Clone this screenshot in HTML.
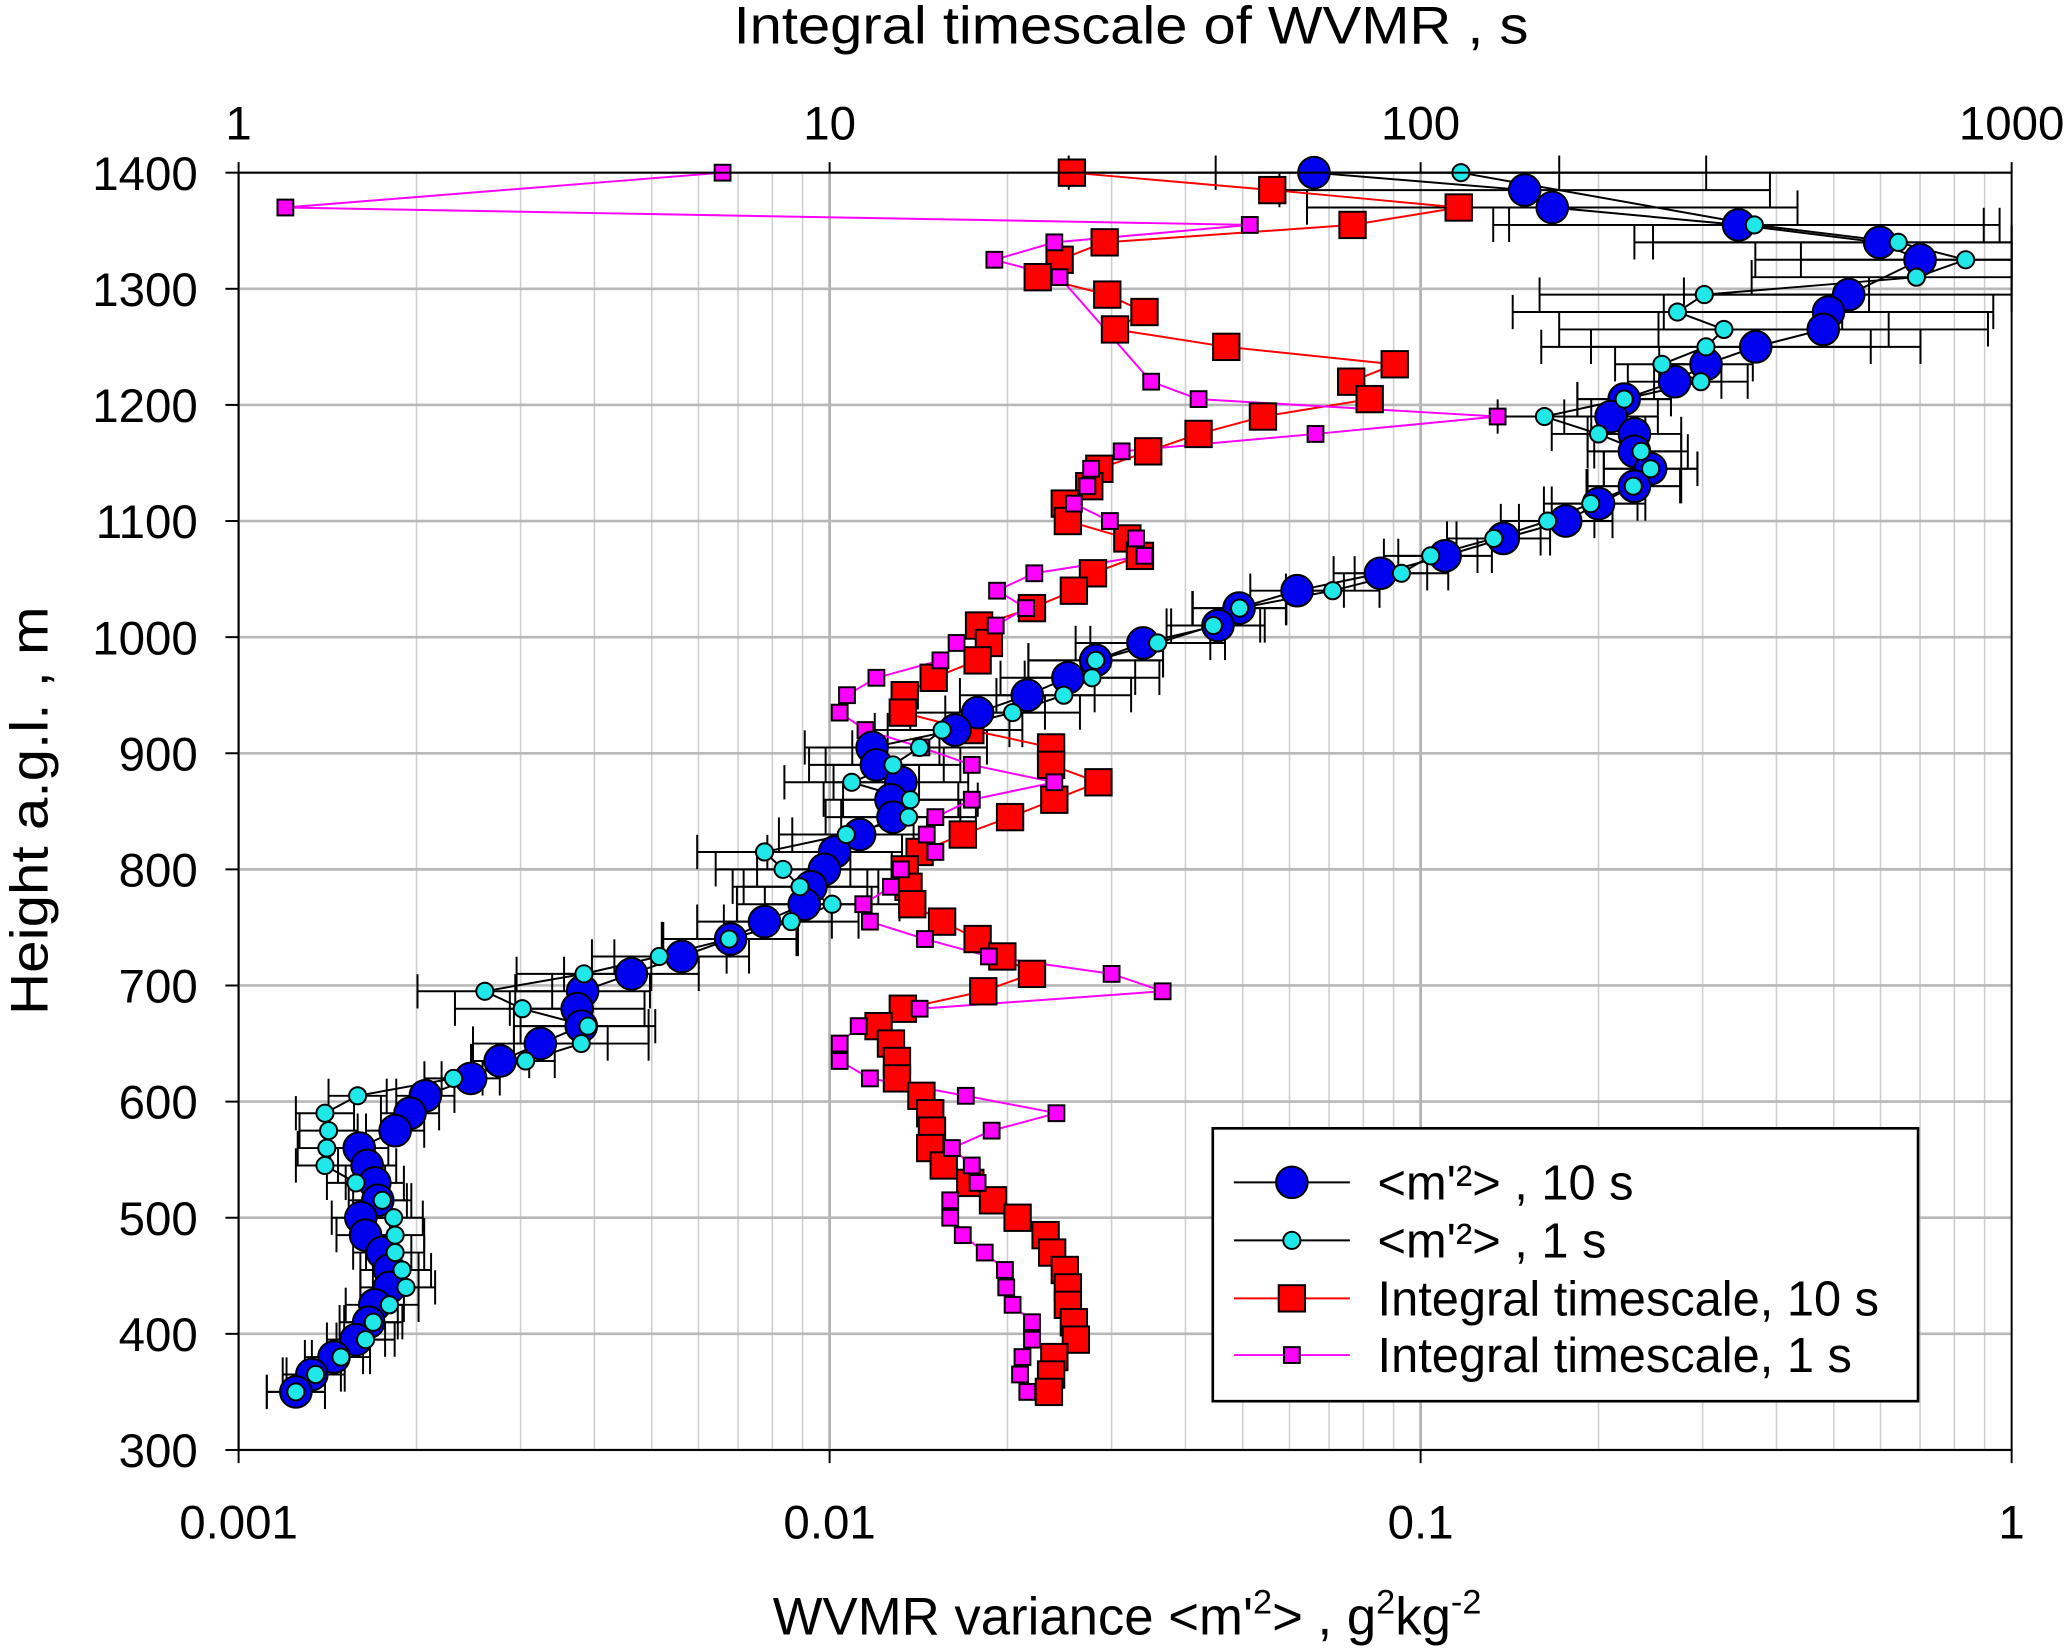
<!DOCTYPE html>
<html><head><meta charset="utf-8">
<style>
html,body{margin:0;padding:0;background:#fff;}
svg{display:block;font-family:"Liberation Sans",Arial,sans-serif;}
</style></head>
<body>
<svg id="chart" width="2067" height="1649" viewBox="0 0 1568 1251" preserveAspectRatio="none" xmlns="http://www.w3.org/2000/svg">
<g id="grid"></g>
<g id="errs"></g>
<g id="series"></g>
<g id="axes"></g>
<text x="858" y="33" font-size="40" text-anchor="middle" textLength="603" lengthAdjust="spacingAndGlyphs">Integral timescale of WVMR , s</text>
<text x="855" y="1240" font-size="40" text-anchor="middle">WVMR variance &lt;m'<tspan font-size="26" dy="-16">2</tspan><tspan dy="16">&gt; , g</tspan><tspan font-size="26" dy="-16">2</tspan><tspan dy="16">kg</tspan><tspan font-size="26" dy="-16">-2</tspan></text>
<text transform="translate(36,615) rotate(-90)" font-size="40" text-anchor="middle" textLength="310" lengthAdjust="spacingAndGlyphs">Height a.g.l. , m</text>
<g id="legend">
<rect x="920" y="856" width="535" height="207" fill="#fff" stroke="#000" stroke-width="2"/>
</g>
</svg>
<script>
// ---- data ----
const b10H = [1400,1385,1370,1355,1340,1325,1295,1280,1265,1250,1235,1220,1205,1190,1175,1160,1145,1130,1115,1100,1085,1070,1055,1040,1025,1010,995,980,965,950,935,920,905,890,875,860,845,830,815,800,785,770,755,740,725,710,695,680,665,650,635,620,605,590,575,560,545,530,515,500,485,470,455,440,425,410,395,380,365,350];
const b10V = [0.066,0.150,0.167,0.345,0.598,0.70,0.53,0.49,0.48,0.369,0.304,0.269,0.221,0.210,0.230,0.230,0.245,0.230,0.200,0.176,0.138,0.110,0.0855,0.0618,0.0493,0.0454,0.0339,0.0282,0.0253,0.0216,0.0178,0.0163,0.0118,0.0120,0.0132,0.0127,0.0128,0.01124,0.0102,0.0098,0.0093,0.00906,0.00776,0.0068,0.00562,0.00462,0.00382,0.00374,0.0038,0.00324,0.00277,0.00247,0.00207,0.00195,0.00184,0.0016,0.00165,0.0017,0.00172,0.00161,0.00164,0.00175,0.0018,0.0018,0.0017,0.00166,0.00158,0.00145,0.00133,0.00125];
const c1H = [1400,1355,1340,1325,1310,1295,1280,1265,1250,1235,1220,1205,1190,1175,1160,1145,1130,1115,1100,1085,1070,1055,1040,1025,1010,995,980,965,950,935,920,905,890,875,860,845,830,815,800,785,770,755,740,725,710,695,680,665,650,635,620,605,590,575,560,545,530,515,500,485,470,455,440,425,410,395,380,365,350];
const c1V = [0.117,0.367,0.643,0.836,0.69,0.302,0.272,0.326,0.304,0.256,0.298,0.221,0.162,0.200,0.236,0.245,0.229,0.194,0.164,0.133,0.104,0.0928,0.071,0.0494,0.0446,0.0359,0.0282,0.0278,0.0249,0.0204,0.0155,0.0142,0.0128,0.0109,0.0137,0.0136,0.01067,0.00776,0.00834,0.00891,0.0101,0.00861,0.00676,0.00515,0.00384,0.00261,0.00302,0.0039,0.0038,0.00306,0.00231,0.00159,0.0014,0.00142,0.00141,0.0014,0.00158,0.00175,0.00183,0.00184,0.00184,0.00189,0.00192,0.0018,0.00169,0.00164,0.00149,0.00135,0.00125];
const r10H = [1400,1385,1370,1355,1340,1325,1310,1295,1280,1265,1250,1235,1220,1205,1190,1175,1160,1145,1130,1115,1100,1085,1070,1055,1040,1025,1010,995,980,965,950,935,920,905,890,875,860,845,830,815,800,785,770,755,740,725,710,695,680,665,650,635,620,605,590,575,560,545,530,515,500,485,470,455,440,425,410,395,380,365,350];
const r10V = [25.7,56.1,116,76.7,29.2,24.5,22.5,29.5,34.1,30.4,46.9,90.4,76.3,82,54.1,42.1,34.6,28.6,27.5,25.0,25.3,31.9,33.5,27.9,25.9,22.0,17.9,18.6,17.8,15.0,13.4,13.3,17.3,23.7,23.7,28.5,24.0,20.2,16.8,14.2,13.4,13.6,13.8,15.5,17.8,19.6,22.0,18.2,13.3,12.1,12.7,13.0,13.0,14.3,14.8,14.9,14.8,15.6,17.3,18.9,20.8,23.2,23.8,25.0,25.3,25.3,25.9,26.1,24.0,23.7,23.5];
const m1H = [1400,1370,1355,1340,1325,1310,1220,1205,1190,1175,1160,1145,1130,1115,1100,1085,1070,1055,1040,1025,1010,995,980,965,950,935,920,905,890,875,860,845,830,815,800,785,770,755,740,725,710,695,680,665,650,635,620,605,590,575,560,545,530,515,500,485,470,455,440,425,410,395,380,365,350];
const m1V = [6.59,1.20,51.4,24.0,19.0,24.5,35.0,42.1,135,66.4,31.2,27.7,27.3,25.9,29.8,33.0,34.1,22.2,19.2,21.5,19.1,16.4,15.4,12.0,10.7,10.4,11.5,14.3,17.4,24.0,17.4,15.1,14.6,15.1,13.2,12.7,11.4,11.7,14.5,18.6,30.0,36.6,14.2,11.2,10.4,10.4,11.7,17.0,24.2,18.8,16.1,17.4,17.8,16.0,16.0,16.8,18.3,19.8,19.9,20.4,22.0,22.0,21.2,21.0,21.6];
const xTicks = [0.001,0.01,0.1,1];
const xTickLabels = ["0.001","0.01","0.1","1"];
const topTicks = [1,10,100,1000];
const topTickLabels = ["1","10","100","1000"];
const yTicks = [300,400,500,600,700,800,900,1000,1100,1200,1300,1400];

// ---- scales ----
const X0=181,X1=1526,YT=131,YB=1100;
const xs = v => X0 + (Math.log10(v)+3)/3*(X1-X0);
const xt = v => X0 + Math.log10(v)/3*(X1-X0);
const ys = h => YB - (h-300)/1100*(YB-YT);
const NS="http://www.w3.org/2000/svg";
function mk(tag, parent, attrs){const e=document.createElementNS(NS,tag);for(const k in attrs)e.setAttribute(k,attrs[k]);parent.appendChild(e);return e;}

const grid=document.getElementById('grid');
for(let d=0;d<3;d++){for(let m=1;m<=9;m++){
  const v=Math.pow(10,d-3)*m; const x=xs(v);
  const gl=mk('line',grid,{x1:x,x2:x,y1:YT,y2:YB,stroke:m===1?'#b0b0b0':'#cfcfcf','stroke-width':m===1?2:1.2});
  
  
}}
yTicks.forEach(h=>{
  const gl=mk('line',grid,{x1:X0,x2:X1,y1:ys(h),y2:ys(h),stroke:'#b8b8b8','stroke-width':2});
  
  
});

const axes=document.getElementById('axes');
const fr=mk('rect',axes,{x:X0,y:YT,width:X1-X0,height:YB-YT,fill:'none',stroke:'#000','stroke-width':1.5});


xTicks.forEach((v,i)=>{
  const x=xs(v);
  mk('line',axes,{x1:x,x2:x,y1:YB,y2:YB+10,stroke:'#000','stroke-width':1.5});
  const t=mk('text',axes,{x:x,y:1167,'font-size':36,'text-anchor':'middle'});
  t.textContent=xTickLabels[i];
  
  
});
topTicks.forEach((v,i)=>{
  const x=xt(v);
  mk('line',axes,{x1:x,x2:x,y1:YT,y2:YT-8,stroke:'#000','stroke-width':1.5});
  const t=mk('text',axes,{x:x,y:106,'font-size':36,'text-anchor':'middle'});
  t.textContent=topTickLabels[i];
  
  
});
yTicks.forEach(h=>{
  const y=ys(h);
  mk('line',axes,{x1:X0-10,x2:X0,y1:y,y2:y,stroke:'#000','stroke-width':1.5});
  const t=mk('text',axes,{x:150,y:y+13,'font-size':36,'text-anchor':'end'});
  t.textContent=h;
  
  
});

// error bars
const errs=document.getElementById('errs');
function errBars(H,V){
  H.forEach((h,i)=>{
    const f = h>=1340?2.6:(h>=1250?1.9:(h>=1000?1.2:(h>=650?1.3:1.12)));
    const y=ys(h), a=xs(Math.max(V[i]/f,0.001)), b=xs(Math.min(V[i]*f,1));
    const l=mk('line',errs,{x1:a,x2:b,y1:y,y2:y,stroke:'#000','stroke-width':1.5});
    
    
    mk('line',errs,{x1:a,x2:a,y1:y-13,y2:y+13,stroke:'#000','stroke-width':1.5});
    mk('line',errs,{x1:b,x2:b,y1:y-13,y2:y+13,stroke:'#000','stroke-width':1.5});
  });
}
errBars(b10H,b10V); errBars(c1H,c1V);

const ser=document.getElementById('series');
function line(H,V,sx,color,name){
  const pts=H.map((h,i)=>sx(V[i]).toFixed(1)+','+ys(h).toFixed(1)).join(' ');
  const p=mk('polyline',ser,{points:pts,fill:'none',stroke:color,'stroke-width':1.5});
  
  
}
function markers(H,V,sx,shape,size,fill,name){
  H.forEach((h,i)=>{
    const x=sx(V[i]),y=ys(h);let e;
    if(shape==='c') e=mk('circle',ser,{cx:x,cy:y,r:size,fill:fill,stroke:'#000','stroke-width':1.5});
    else e=mk('rect',ser,{x:x-size,y:y-size,width:2*size,height:2*size,fill:fill,stroke:'#000','stroke-width':1.5});
    
    
  });
}
line(r10H,r10V,xt,'#ff0000','integral-10s-line');
line(m1H,m1V,xt,'#ff00ff','integral-1s-line');
line(b10H,b10V,xs,'#000','variance-10s-line');
line(c1H,c1V,xs,'#000','variance-1s-line');
markers(r10H,r10V,xt,'s',10,'#ff0000','integral-10s-point');
markers(m1H,m1V,xt,'s',6,'#ff00ff','integral-1s-point');
markers(b10H,b10V,xs,'c',12,'#0000ee','variance-10s-point');
markers(c1H,c1V,xs,'c',6.5,'#20e8e8','variance-1s-point');

// legend
const lg=document.getElementById('legend');
const entries=[
 {y:897,color:'#000',shape:'c',size:12,fill:'#0000ee',label:"<m'²> , 10 s"},
 {y:941,color:'#000',shape:'c',size:6.5,fill:'#20e8e8',label:"<m'²> , 1 s"},
 {y:985,color:'#ff0000',shape:'s',size:10,fill:'#ff0000',label:"Integral timescale, 10 s"},
 {y:1028,color:'#ff00ff',shape:'s',size:6,fill:'#ff00ff',label:"Integral timescale, 1 s"}
];
entries.forEach(en=>{
  const g=mk('g',lg,{});
  
  
  mk('line',g,{x1:936,x2:1024,y1:en.y,y2:en.y,stroke:en.color,'stroke-width':1.5});
  if(en.shape==='c') mk('circle',g,{cx:980,cy:en.y,r:en.size,fill:en.fill,stroke:'#000','stroke-width':1.5});
  else mk('rect',g,{x:980-en.size,y:en.y-en.size,width:2*en.size,height:2*en.size,fill:en.fill,stroke:'#000','stroke-width':1.5});
  const t=mk('text',g,{x:1045,y:en.y+13,'font-size':37});
  t.textContent=en.label;
});
</script>
</body></html>
